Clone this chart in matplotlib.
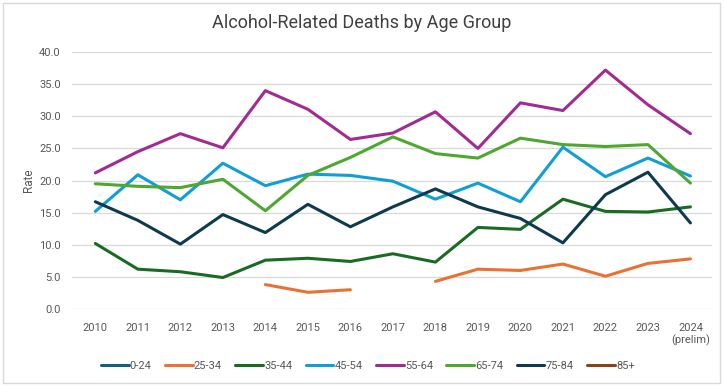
import matplotlib
matplotlib.use("Agg")
import matplotlib.pyplot as plt
import numpy as np

plt.rcParams['font.family'] = ['Roboto', 'DejaVu Sans']

years = ['2010', '2011', '2012', '2013', '2014', '2015', '2016', '2017',
         '2018', '2019', '2020', '2021', '2022', '2023', '2024\n(prelim)']
nan = np.nan

age_0_24 = [nan] * 15
age_25_34 = [nan, nan, nan, nan, 3.8, 2.6, 3.0, nan, 4.3, 6.2, 6.0, 7.0, 5.1, 7.1, 7.8]
age_35_44 = [10.2, 6.2, 5.8, 4.9, 7.6, 7.9, 7.4, 8.6, 7.3, 12.7, 12.4, 17.1, 15.2, 15.1, 15.9]
age_45_54 = [15.2, 20.9, 17.0, 22.7, 19.2, 21.0, 20.8, 19.9, 17.1, 19.6, 16.7, 25.2, 20.6, 23.5, 20.7]
age_55_64 = [21.2, 24.5, 27.3, 25.1, 34.0, 31.1, 26.4, 27.4, 30.7, 25.0, 32.1, 30.9, 37.2, 31.8, 27.3]
age_65_74 = [19.5, 19.1, 18.9, 20.2, 15.3, 20.8, 23.6, 26.8, 24.2, 23.5, 26.6, 25.6, 25.3, 25.6, 19.6]
age_75_84 = [16.7, 13.8, 10.1, 14.7, 11.9, 16.3, 12.8, 15.9, 18.7, 15.9, 14.1, 10.3, 17.8, 21.3, 13.4]
age_85_up = [nan] * 15

series = [
    ('0-24', age_0_24, '#156082'),
    ('25-34', age_25_34, '#E97132'),
    ('35-44', age_35_44, '#196B24'),
    ('45-54', age_45_54, '#0F9ED5'),
    ('55-64', age_55_64, '#A02B93'),
    ('65-74', age_65_74, '#4EA72E'),
    ('75-84', age_75_84, '#0D3A4E'),
    ('85+', age_85_up, '#8B4411'),
]

fig = plt.figure(figsize=(7.24, 3.86), dpi=100)
ax = fig.add_axes([0.0994, 0.1995, 0.8836, 0.6655])

x = np.arange(len(years))
for name, vals, col in series:
    ax.plot(x, vals, color=col, lw=2.2, label=name, solid_capstyle='round')

ax.set_xlim(-0.55, 14.5)
ax.set_ylim(0, 40)
ax.set_yticks(np.arange(0, 41, 5))
ax.set_yticklabels([f'{v:.1f}' for v in np.arange(0, 41, 5)])
ax.set_xticks(x)
ax.set_xticklabels(years)
ax.tick_params(length=0, labelsize=8, colors='#595959', pad=8)
ax.tick_params(axis='x', pad=10)
ax.grid(axis='y', color='#d9d9d9', lw=0.9)
ax.set_axisbelow(True)
for s in ax.spines.values():
    s.set_visible(False)
ax.set_ylabel('Rate', fontsize=8.5, color='#595959', labelpad=3)

fig.suptitle('Alcohol-Related Deaths by Age Group', y=0.965, fontsize=13,
             color='#404040')

fig.legend(loc='center', bbox_to_anchor=(0.508, 0.052), ncol=8, frameon=False,
           fontsize=8, handlelength=2.5, handletextpad=0.1, columnspacing=1.2,
           labelcolor='#595959')

fig.patches.append(plt.Rectangle((0.004, 0.008), 0.99, 0.985, transform=fig.transFigure,
                                 fill=False, edgecolor='#d9d9d9', lw=1))

fig.savefig('out.png', dpi=100)
